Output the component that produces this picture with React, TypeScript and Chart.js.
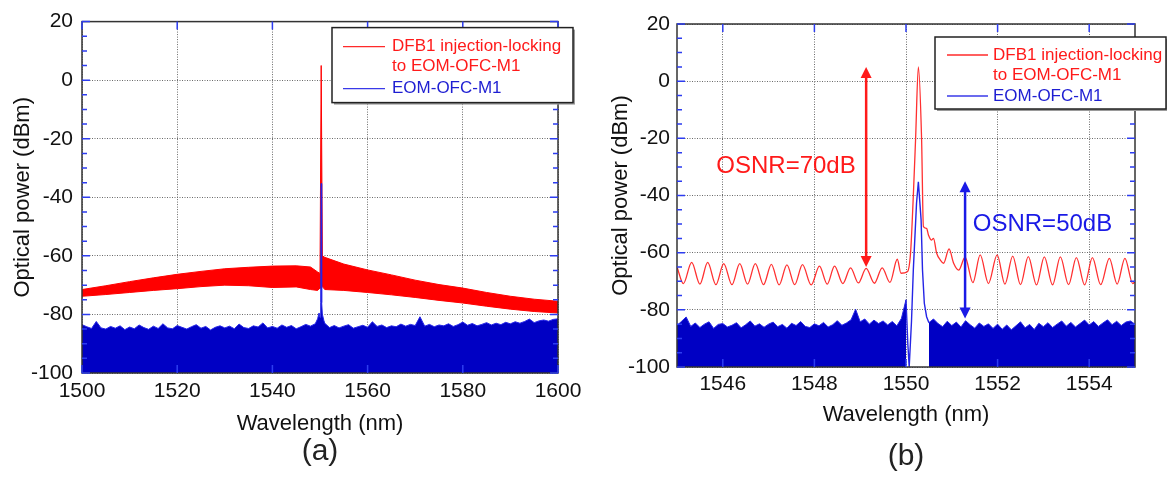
import React, { useEffect, useRef } from 'react';
import { Chart, registerables } from 'chart.js';

Chart.register(...registerables);

const FONT = 'Arial, "Liberation Sans", Helvetica, sans-serif';
Chart.defaults.font.family = FONT;

// ---------- shared
const powerTicks = [-100, -80, -60, -40, -20, 0, 20];
const legendLabels = ['DFB1 injection-locking', 'to EOM-OFC-M1', 'EOM-OFC-M1'];

// ---------- panel (a)
const wlTicksA = [1500, 1520, 1540, 1560, 1580, 1600];
const bandWlA = [1500, 1505, 1510, 1515, 1520, 1525, 1530, 1535, 1540, 1545, 1548, 1549.5, 1550.0, 1550.25, 1550.5, 1551, 1555, 1560, 1565, 1570, 1575, 1580, 1585, 1590, 1595, 1600];
const bandTopA = [-71.5, -70.2, -68.8, -67.5, -66.3, -65.3, -64.4, -63.9, -63.5, -63.4, -63.8, -65.5, -66.0, 5.0, -60.0, -60.5, -62.8, -64.8, -66.5, -68.3, -69.8, -71.0, -72.5, -73.8, -74.8, -75.5];
const bandBottomA = [-73.8, -73.2, -72.5, -71.8, -71.2, -70.5, -70.0, -70.2, -70.8, -70.6, -71.5, -71.8, -71.0, -71.0, -70.5, -71.5, -71.8, -72.5, -73.3, -74.2, -75.2, -76.1, -77.2, -78.2, -79.0, -79.5];
const noiseStartA = 1500;
const noiseStepA = 1;
const noiseA = [
  -83.5, -84.2, -84.8, -82.4, -84.6, -85.0, -84.1, -84.7, -83.9, -85.2,
  -84.3, -84.9, -83.6, -84.5, -85.1, -84.0, -84.8, -83.2, -84.6, -84.9,
  -83.8, -84.4, -85.0, -84.2, -83.5, -84.7, -84.1, -85.3, -84.4, -83.9,
  -84.6, -84.0, -84.9, -83.3, -84.5, -84.8, -83.9, -84.3, -82.9, -84.6,
  -84.1, -84.7, -83.6, -84.4, -83.8, -84.9, -84.2, -83.4, -84.0, -83.2,
  null,
  -83.0, -84.5, -83.8, -84.6, -84.0, -83.5, -84.7, -84.2, -83.7,
  -84.4, -82.5, -84.1, -83.6, -84.5, -83.9, -84.2, -83.3, -84.0, -83.4,
  -83.8, -80.8, -84.0, -83.4, -84.2, -83.6, -83.9, -83.2, -84.1, -83.5,
  -82.6, -83.7, -83.1, -83.9, -83.4, -82.8, -83.6, -83.0, -83.5, -82.7,
  -83.2, -82.5, -83.0, -82.4, -81.6, -82.8, -82.2, -81.9, -82.3, -81.7,
  -81.5,
];
const spikeWlA = [1549.5, 1549.8, 1550.0, 1550.15, 1550.25, 1550.35, 1550.5, 1550.8];
const spikeA = [-81.5, -79.5, -81.0, -76.0, -35.3, -76.0, -80.0, -82.0];

// ---------- panel (b)
const wlTicksB = [1546, 1548, 1550, 1552, 1554];
const lockedWlB = [
  1545.00, 1545.14, 1545.32, 1545.50, 1545.67, 1545.85,
  1546.02, 1546.20, 1546.37, 1546.54, 1546.71, 1546.89,
  1547.06, 1547.23, 1547.40, 1547.57, 1547.74, 1547.93,
  1548.11, 1548.28, 1548.44, 1548.62, 1548.79, 1548.96,
  1549.13, 1549.31, 1549.48, 1549.65, 1549.81, 1549.89,
  1550.03, 1550.10, 1550.16, 1550.21, 1550.27, 1550.34,
  1550.38, 1550.45, 1550.49, 1550.56, 1550.60, 1550.67,
  1550.75, 1550.82, 1550.94, 1551.04, 1551.15, 1551.29,
  1551.46, 1551.62, 1551.80, 1551.99, 1552.16, 1552.33,
  1552.50, 1552.67, 1552.85, 1553.02, 1553.20, 1553.37,
  1553.55, 1553.72, 1553.90, 1554.07, 1554.25, 1554.44,
  1554.61, 1554.78, 1554.95, 1555.00,
];
const lockedB = [
  -65.0, -70.8, -63.4, -71.0, -63.4, -71.2,
  -63.8, -71.2, -63.8, -71.0, -63.8, -71.2,
  -64.1, -71.3, -64.3, -71.2, -64.2, -71.3,
  -64.7, -71.0, -64.7, -70.8, -65.3, -70.6,
  -65.5, -70.7, -65.3, -70.4, -62.3, -67.2,
  -66.7, -60.0, -40.0, -20.0, 5.0, -20.0,
  -50.9, -51.5, -53.8, -55.6, -55.0, -60.2,
  -62.6, -63.7, -58.7, -63.7, -66.1, -61.6,
  -70.5, -60.8, -70.8, -60.8, -71.0, -61.2,
  -71.2, -61.4, -71.3, -61.5, -71.3, -61.5,
  -71.2, -61.7, -71.3, -61.7, -71.2, -62.0,
  -71.0, -62.0, -70.8, -70.2,
];
const noiseStartB = 1545;
const noiseStepB = 0.1;
const noiseB = [
  -85.5, -84.0, -82.5, -85.8, -84.6, -86.2, -85.0, -84.2, -86.5, -85.1,
  -84.8, -86.0, -85.4, -84.5, -86.3, -85.2, -83.9, -85.7, -84.9, -86.1,
  -85.0, -84.3, -85.9, -85.1, -86.4, -84.7, -85.5, -84.1, -85.8, -86.2,
  -84.9, -85.6, -84.4, -86.0, -85.2, -83.8, -85.4, -84.6, -83.5, -79.8,
  -84.2, -83.2, -85.0, -83.6, -84.8, -83.9, -85.3, -84.1, -85.6, -83.0,
  -76.5, null, null, null, null, -84.5, -83.2, -84.8, -85.9, -84.0,
  -85.5, -84.3, -86.0, -83.8, -85.2, -86.4, -84.6, -85.8, -84.9, -86.5,
  -85.0, -86.8, -85.3, -87.0, -85.6, -84.2, -86.3, -85.1, -86.9, -84.7,
  -85.9, -84.5, -86.2, -85.0, -83.9, -85.7, -84.4, -86.0, -84.8, -83.6,
  -85.3, -84.1, -85.8, -84.6, -83.5, -85.2, -84.0, -85.5, -84.3, -83.9,
  -85.0,
];
const peakWlB = [1550.00, 1550.04, 1550.07, 1550.12, 1550.16, 1550.23, 1550.27, 1550.33, 1550.36, 1550.40, 1550.45, 1550.50];
const peakB = [-76.5, -92.0, -100.0, -84.0, -66.0, -42.7, -35.2, -48.6, -66.0, -77.7, -82.4, -84.5];

const osnrLabels = ['OSNR=70dB', 'OSNR=50dB'];
const osnrArrowWl = [1549.13, 1551.29];
const osnrArrowTop = [5, -35];
const osnrArrowBottom = [-65, -83];
const osnrTextWl = [1547.38, 1552.98];
const osnrTextPower = [-29.7, -50];

// ---------- helpers
const RED = '#ff0000';
const BLUE_FILL = '#0000c4';
const BLUE_LINE = '#2424e6';
const TICK_BLUE = '#2d3cf0';

const pts = (xs: number[], ys: (number | null)[]) => xs.map((x, i) => ({ x, y: ys[i] }));
const gridPts = (start: number, step: number, ys: (number | null)[]) =>
  ys.map((y, i) => ({ x: +(start + i * step).toFixed(3), y }));
// noise floor of (a) with the spike readings merged in, so the fill has no seams
const noiseWithSpikeA = () =>
  [...gridPts(noiseStartA, noiseStepA, noiseA).filter((p) => p.y !== null), ...pts(spikeWlA, spikeA)].sort(
    (p, q) => p.x - q.x,
  );

function scalesFor(s: any) {
  return {
    x: {
      type: 'linear',
      min: s.xMin,
      max: s.xMax,
      afterBuildTicks: (sc: any) => { sc.ticks = s.xTicks.map((v: number) => ({ value: v })); },
      afterFit: (sc: any) => { sc.height = s.xAxisHeight; },
      ticks: { autoSkip: false, maxRotation: 0, padding: s.xLabelPad, color: '#111', font: { size: 21 }, callback: (v: any) => String(v) },
      grid: { color: '#6a6a6a', lineWidth: 1, drawTicks: false },
      border: { display: false, dash: [1, 1.5] },
      title: { display: true, text: 'Wavelength (nm)', color: '#111', font: { size: 22 }, padding: { top: 0, bottom: s.xTitlePad } },
    },
    y: {
      type: 'linear',
      min: -100,
      max: 20,
      afterBuildTicks: (sc: any) => { sc.ticks = powerTicks.map((v) => ({ value: v })); },
      afterFit: (sc: any) => { sc.width = s.yAxisWidth; },
      ticks: { autoSkip: false, padding: s.yLabelPad, color: '#111', font: { size: 21 }, callback: (v: any) => String(v) },
      grid: { color: '#6a6a6a', lineWidth: 1, drawTicks: false },
      border: { display: false, dash: [1, 1.5] },
      title: { display: true, text: 'Optical power (dBm)', color: '#111', font: { size: 22 }, padding: { top: s.yTitlePad, bottom: 0 } },
    },
  };
}

function drawArrow(ctx: CanvasRenderingContext2D, x: number, yTop: number, yBot: number, color: string) {
  const head = 11;
  const half = 5.5;
  ctx.strokeStyle = color;
  ctx.fillStyle = color;
  ctx.lineWidth = 2.5;
  ctx.beginPath();
  ctx.moveTo(x, yTop + head - 1);
  ctx.lineTo(x, yBot - head + 1);
  ctx.stroke();
  ctx.beginPath();
  ctx.moveTo(x, yTop);
  ctx.lineTo(x - half, yTop + head);
  ctx.lineTo(x + half, yTop + head);
  ctx.closePath();
  ctx.fill();
  ctx.beginPath();
  ctx.moveTo(x, yBot);
  ctx.lineTo(x - half, yBot - head);
  ctx.lineTo(x + half, yBot - head);
  ctx.closePath();
  ctx.fill();
}

function decorPlugin(spec: any) {
  return {
    id: 'decor',
    afterDraw(chart: any) {
      const { ctx, chartArea: a, scales } = chart;
      const xs = scales.x;
      const ys = scales.y;
      ctx.save();

      // annotations (panel b)
      if (spec.osnr) {
        const colors = ['#ff1a1a', '#1a1ae6'];
        for (let i = 0; i < osnrLabels.length; i++) {
          const x = xs.getPixelForValue(osnrArrowWl[i]);
          drawArrow(ctx, x, ys.getPixelForValue(osnrArrowTop[i]), ys.getPixelForValue(osnrArrowBottom[i]), colors[i]);
          ctx.font = `24px ${FONT}`;
          ctx.fillStyle = colors[i];
          ctx.textAlign = 'center';
          ctx.textBaseline = 'middle';
          ctx.fillText(osnrLabels[i], xs.getPixelForValue(osnrTextWl[i]), ys.getPixelForValue(osnrTextPower[i]));
        }
      }

      // frame
      ctx.strokeStyle = '#333';
      ctx.lineWidth = 1.5;
      ctx.strokeRect(a.left, a.top, a.right - a.left, a.bottom - a.top);

      // inward tick marks
      ctx.strokeStyle = TICK_BLUE;
      ctx.lineWidth = 1.5;
      ctx.beginPath();
      for (const v of powerTicks) {
        const y = ys.getPixelForValue(v);
        ctx.moveTo(a.left, y); ctx.lineTo(a.left + 8, y);
        ctx.moveTo(a.right, y); ctx.lineTo(a.right - 8, y);
      }
      for (let v = -95; v < 20; v += 5) {
        if (v % 20 === 0) continue;
        const y = ys.getPixelForValue(v);
        ctx.moveTo(a.left, y); ctx.lineTo(a.left + 5, y);
        ctx.moveTo(a.right, y); ctx.lineTo(a.right - 5, y);
      }
      for (const v of spec.xTicks) {
        const x = xs.getPixelForValue(v);
        ctx.moveTo(x, a.top); ctx.lineTo(x, a.top + 8);
        ctx.moveTo(x, a.bottom); ctx.lineTo(x, a.bottom - 8);
      }
      ctx.stroke();

      // legend
      const L = spec.legend;
      const bx = a.right - L.dx;
      const by = a.top + L.dy;
      ctx.fillStyle = '#9a9a9a';
      ctx.fillRect(bx + 2, by + 2, L.w, L.h);
      ctx.fillStyle = '#ffffff';
      ctx.fillRect(bx, by, L.w, L.h);
      ctx.strokeStyle = '#222';
      ctx.lineWidth = 1.5;
      ctx.strokeRect(bx, by, L.w, L.h);
      ctx.lineWidth = 1.3;
      ctx.strokeStyle = '#ff2a2a';
      ctx.beginPath(); ctx.moveTo(bx + L.sx0, by + L.rows[0]); ctx.lineTo(bx + L.sx1, by + L.rows[0]); ctx.stroke();
      ctx.strokeStyle = '#3a3ae8';
      ctx.beginPath(); ctx.moveTo(bx + L.sx0, by + L.rows[2]); ctx.lineTo(bx + L.sx1, by + L.rows[2]); ctx.stroke();
      ctx.font = `17px ${FONT}`;
      ctx.textAlign = 'left';
      ctx.textBaseline = 'middle';
      ctx.fillStyle = '#ff1a1a';
      ctx.fillText(legendLabels[0], bx + L.tx, by + L.rows[0]);
      ctx.fillText(legendLabels[1], bx + L.tx, by + L.rows[1]);
      ctx.fillStyle = '#1e1ed2';
      ctx.fillText(legendLabels[2], bx + L.tx, by + L.rows[2]);

      // panel label
      ctx.font = `30px ${FONT}`;
      ctx.fillStyle = '#222';
      ctx.textAlign = 'center';
      ctx.textBaseline = 'middle';
      ctx.fillText(spec.label, (a.left + a.right) / 2, spec.labelY);

      ctx.restore();
    },
  };
}

function configA(): any {
  return {
    type: 'line',
    data: {
      datasets: [
        { data: noiseWithSpikeA(), borderColor: BLUE_LINE, backgroundColor: BLUE_FILL, borderWidth: 1, fill: 'start' },
        { data: pts(bandWlA, bandTopA), borderColor: RED, backgroundColor: RED, borderWidth: 1, fill: '+1' },
        { data: pts(bandWlA, bandBottomA), borderColor: RED, backgroundColor: RED, borderWidth: 1, fill: false },
      ],
    },
    options: {
      responsive: false,
      animation: false,
      events: [],
      parsing: false,
      elements: { point: { radius: 0 }, line: { tension: 0 } },
      layout: { padding: { top: 15, right: 42, left: 0, bottom: 0 } },
      plugins: { legend: { display: false }, tooltip: { enabled: false } },
      scales: scalesFor({ xMin: 1500, xMax: 1600, xTicks: wlTicksA, xAxisHeight: 109, yAxisWidth: 82, xLabelPad: 6, yLabelPad: 9, xTitlePad: 45, yTitlePad: 10 }),
    },
    plugins: [decorPlugin({ xTicks: wlTicksA, osnr: false, label: '(a)', labelY: 452, legend: { dx: 226, dy: 6, w: 241, h: 75, rows: [19, 39, 61], sx0: 11, sx1: 53, tx: 60 } })],
  };
}

function configB(): any {
  return {
    type: 'line',
    data: {
      datasets: [
        { data: pts(peakWlB, peakB), borderColor: BLUE_LINE, borderWidth: 1.4, fill: false },
        { data: gridPts(noiseStartB, noiseStepB, noiseB), borderColor: BLUE_LINE, backgroundColor: BLUE_FILL, borderWidth: 1, fill: 'start', spanGaps: false },
        { data: pts(lockedWlB, lockedB), borderColor: '#ff3030', borderWidth: 1.3, fill: false, cubicInterpolationMode: 'monotone' },
      ],
    },
    options: {
      responsive: false,
      animation: false,
      events: [],
      parsing: false,
      elements: { point: { radius: 0 }, line: { tension: 0 } },
      layout: { padding: { top: 24, right: 32, left: 0, bottom: 0 } },
      plugins: { legend: { display: false }, tooltip: { enabled: false } },
      scales: scalesFor({ xMin: 1545, xMax: 1555, xTicks: wlTicksB, xAxisHeight: 115, yAxisWidth: 77, xLabelPad: 5, yLabelPad: 7, xTitlePad: 54, yTitlePad: 8 }),
    },
    plugins: [decorPlugin({ xTicks: wlTicksB, osnr: true, label: '(b)', labelY: 457, legend: { dx: 200, dy: 13, w: 231, h: 72, rows: [18, 38, 59], sx0: 12, sx1: 53, tx: 58 } })],
  };
}

function ChartCanvas({ make, left, width }: { make: () => any; left: number; width: number }) {
  const ref = useRef<HTMLCanvasElement>(null);
  useEffect(() => {
    const chart = new Chart(ref.current as HTMLCanvasElement, make());
    return () => chart.destroy();
  }, []);
  return (
    <canvas
      ref={ref}
      width={width}
      height={482}
      style={{ position: 'absolute', left, top: 0, width, height: 482 }}
    />
  );
}

export default function App() {
  return (
    <div style={{ position: 'absolute', left: 0, top: 0, width: 1167, height: 482, background: '#fff', overflow: 'hidden' }}>
      <ChartCanvas make={configA} left={0} width={600} />
      <ChartCanvas make={configB} left={600} width={567} />
    </div>
  );
}
